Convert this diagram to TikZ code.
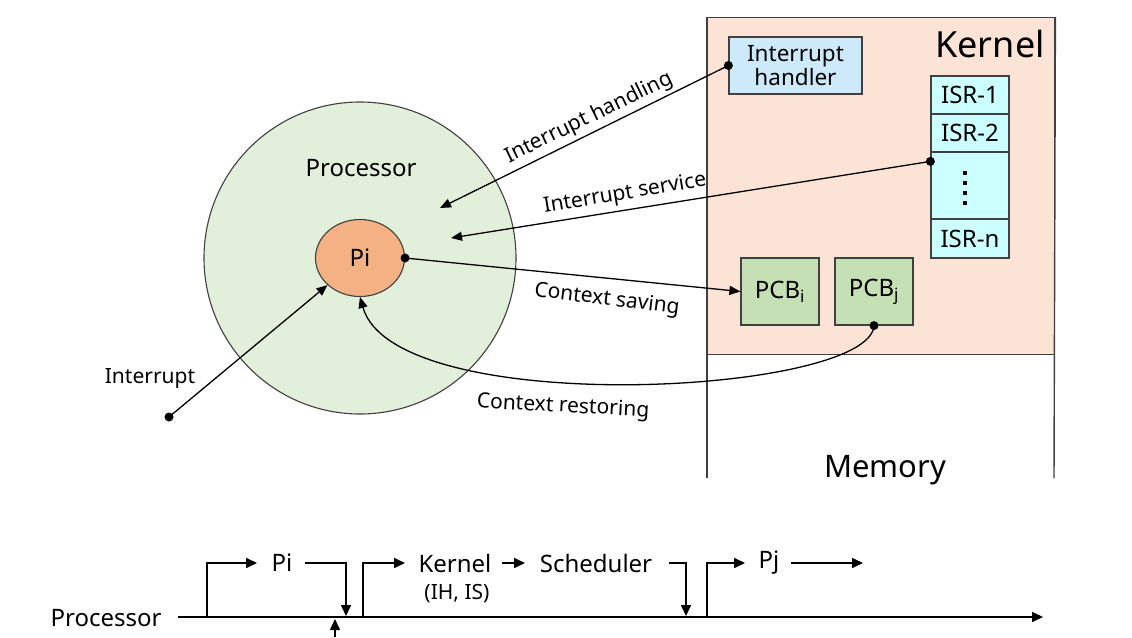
\documentclass[tikz,border=0pt]{standalone}
\usepackage{fontspec}
\setmainfont{Noto Sans}
\usetikzlibrary{arrows.meta,calc,shapes.geometric}

\definecolor{kernelfill}{RGB}{251,228,213}
\definecolor{ihfill}{RGB}{205,234,251}
\definecolor{isrfill}{RGB}{204,255,255}
\definecolor{pcbfill}{RGB}{197,224,180}
\definecolor{procfill}{RGB}{226,239,218}
\definecolor{pifill}{RGB}{244,177,131}
\definecolor{edge}{RGB}{64,64,64}

\begin{document}
\begin{tikzpicture}[x=1pt,y=-1pt,
  box/.style={draw=edge, line width=1.2pt, inner sep=0pt},
  isrbox/.style={box, fill=isrfill, minimum width=78pt, font=\fontsize{24}{26}\selectfont},
  pcbbox/.style={box, fill=pcbfill, minimum width=78pt, minimum height=67pt, font=\fontsize{24}{26}\selectfont},
  conn/.style={line width=1.3pt, -{Triangle[length=11pt,width=9pt]}},
  dot/.style={circle, fill=black, inner sep=0pt, minimum size=9pt},
  lbl/.style={font=\fontsize{21}{24}\selectfont, inner sep=0pt},
  big/.style={font=\fontsize{24}{26}\selectfont, inner sep=0pt},
  tl/.style={line width=1.6pt},
  tarrow/.style={tl, -{Triangle[length=11pt,width=10pt]}}
]
\useasboundingbox (0,0) rectangle (1132,637);

% ---------- memory and kernel area ----------
\node[draw=edge, line width=1.4pt, fill=kernelfill, minimum width=347pt, minimum height=337pt,
      inner sep=0pt, anchor=north west] (kernel) at (707,17) {};
\coordinate (memL) at (707,478);
\coordinate (memR) at (1054,478);
\draw[edge, line width=1.4pt] (kernel.north west) -- (memL);
\draw[edge, line width=1.4pt] (kernel.north east) -- (memR);
\node[font=\fontsize{36}{38}\selectfont, inner sep=0pt] (kerneltxt) at (990,44) {Kernel};
\node[font=\fontsize{31}{34}\selectfont, inner sep=0pt] (memtxt) at (885,470) {Memory};

% interrupt handler and ISR table
\node[box, fill=ihfill, minimum width=133pt, minimum height=57pt, align=center,
      font=\fontsize{22.5}{24}\selectfont] (ih) at (795.5,65.5) {Interrupt\\handler};
\node[isrbox, minimum height=38pt] (isr1) at (970,95) {ISR-1};
\node[isrbox, minimum height=38pt] (isr2) at (970,133) {ISR-2};
\node[isrbox, minimum height=67pt] (isrdots) at (970,185.5) {};
\node[isrbox, minimum height=39pt] (isrn) at (970,238.5) {ISR-n};
\draw[line width=4pt, dash pattern=on 4pt off 6pt] ($(isrdots.north)+(-5,20)$) -- ($(isrdots.north)+(-5,54)$);

% process control blocks
\node[pcbbox] (pcbi) at (780,291.5) {PCB\textsubscript{i}};
\node[pcbbox] (pcbj) at (874,291.5) {PCB\textsubscript{j}};

% ---------- processor ----------
\node[circle, draw=edge, line width=1.1pt, fill=procfill, minimum size=312pt, inner sep=0pt] (proc) at (360,258) {};
\node[big] (proctxt) at (361,168) {Processor};
\node[ellipse, draw=edge, line width=1.1pt, fill=pifill, minimum width=89pt, minimum height=77pt,
      inner sep=0pt, font=\fontsize{24}{26}\selectfont] (pi) at (360,258) {Pi};

% ---------- connectors ----------
\coordinate (ihend) at (440,208);
\coordinate (isend) at (451,238);
\coordinate (isstart) at ($(isrdots.north west)+(0,10)$);
\coordinate (intsrc) at (169,417);

\draw[conn] (ih.west) -- (ihend);
\node[dot] at (ih.west) {};
\node[lbl, rotate=26] (lih) at (589,118) {Interrupt handling};

\draw[conn] (isstart) -- (isend);
\node[dot] at (isstart) {};
\node[lbl, rotate=9.5] (lis) at (625,194) {Interrupt service};

\draw[conn] (pi.east) -- (pcbi.west);
\node[dot] at (pi.east) {};
\node[lbl, rotate=-7] (lcs) at (607,300) {Context saving};

\draw[conn] (pcbj.south) .. controls (870,395) and (395,420) .. (pi.south);
\node[dot] at (pcbj.south) {};
\node[lbl, rotate=-3] (lcr) at (563,407) {Context restoring};

\draw[conn] (intsrc) -- (pi);
\node[dot] at (intsrc) {};
\node[lbl] (lint) at (150,379) {Interrupt};

% ---------- time line ----------
\node[big] (tproc) at (106,618) {Processor};
\coordinate (axs) at (178,617);
\coordinate (axe) at (1043,617);
\draw[tarrow] (axs) -- (axe);

\node[big] (tpi) at (282,563) {Pi};
\node[big] (tkern) at (455,563) {Kernel};
\node[font=\fontsize{21}{23}\selectfont, inner sep=0pt] (tihis) at (457,594) {(IH, IS)};
\node[big] (tsched) at (596,563) {Scheduler};
\node[big] (tpj) at (769,563) {Pj};

\coordinate (a1) at (207,617);   \coordinate (a1e) at (257,563);
\coordinate (b1) at (305,563);   \coordinate (b1e) at (346,616);
\coordinate (u1) at (335,637);   \coordinate (u1e) at (335,619);
\coordinate (a2) at (363,617);   \coordinate (a2e) at (405,563);
\coordinate (k1) at (502,563);   \coordinate (k1e) at (525,563);
\coordinate (b2) at (669,563);   \coordinate (b2e) at (686,616);
\coordinate (a3) at (707,617);   \coordinate (a3e) at (745,563);
\coordinate (c3) at (791,563);   \coordinate (c3e) at (863,563);

\draw[tarrow] (a1) |- (a1e);
\draw[tarrow] (b1) -| (b1e);
\draw[tarrow] (u1) -- (u1e);
\draw[tarrow] (a2) |- (a2e);
\draw[tarrow] (k1) -- (k1e);
\draw[tarrow] (b2) -| (b2e);
\draw[tarrow] (a3) |- (a3e);
\draw[tarrow] (c3) -- (c3e);
\end{tikzpicture}
\end{document}
